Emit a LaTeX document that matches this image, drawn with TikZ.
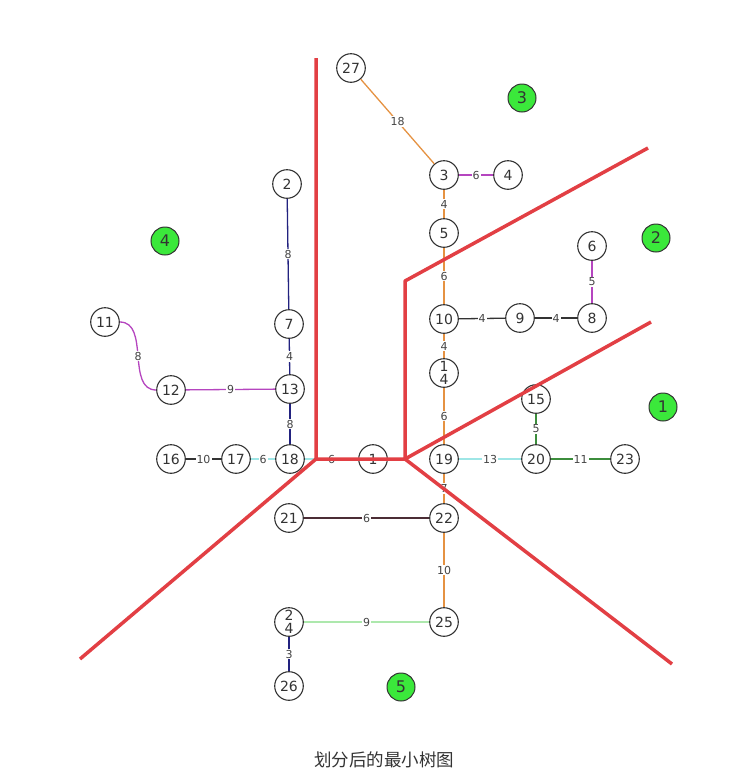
\documentclass[tikz,border=0pt]{standalone}
\usepackage{fontspec}
\setmainfont{DejaVu Sans}
\newfontfamily\cjk{Noto Sans CJK SC}
\usetikzlibrary{positioning}
\definecolor{cdark}{HTML}{333333}
\definecolor{cgrey}{HTML}{444444}
\definecolor{cred}{HTML}{E23F44}
\definecolor{cpart}{HTML}{3BE83B}
\definecolor{corange}{HTML}{E59242}
\definecolor{cmagenta}{HTML}{B545BF}
\definecolor{cnavy}{HTML}{22227F}
\definecolor{cblack}{HTML}{333333}
\definecolor{ccyan}{HTML}{9EE6E6}
\definecolor{cgreen}{HTML}{3C8D3C}
\definecolor{clight}{HTML}{ADE8AD}
\definecolor{cbrown}{HTML}{4B2D35}
\tikzset{
  every picture/.style={line width=0.8pt},
  vtx/.style={circle, draw=cdark, line width=1.1pt, fill=white, minimum size=28.6pt, inner sep=0pt, align=center, text=cdark, font=\fontsize{14}{13}\selectfont},
  part/.style={circle, draw=cdark, line width=1pt, fill=cpart, minimum size=28pt, inner sep=0pt, text=cdark, font=\fontsize{16}{16}\selectfont},
  wt/.style={fill=white, inner sep=1pt, text=cgrey, font=\fontsize{11}{11}\selectfont},
  link/.style={draw=#1, line width=1.3pt},
  cut/.style={draw=cred, line width=3.5pt, line join=round},
}

\begin{document}
\begin{tikzpicture}[x=1pt, y=-1pt]
  \useasboundingbox (0,0) rectangle (738,782);
  % vertices
  \node[vtx] (n27) at (351,68) {27};
  \node[vtx] (n3) at (444,175) {3};
  \node[vtx] (n4) at (508,175) {4};
  \node[vtx] (n5) at (444,233) {5};
  \node[vtx] (n10) at (444,319) {10};
  \node[vtx] (n9) at (520,318) {9};
  \node[vtx] (n8) at (592,318) {8};
  \node[vtx] (n6) at (592,246) {6};
  \node[vtx] (n14) at (444,373) {1\\4};
  \node[vtx] (n19) at (444,459) {19};
  \node[vtx] (n15) at (536,399) {15};
  \node[vtx] (n20) at (536,459) {20};
  \node[vtx] (n23) at (625,459) {23};
  \node[vtx] (n1) at (373,459) {1};
  \node[vtx] (n2) at (287,184) {2};
  \node[vtx] (n7) at (289,324) {7};
  \node[vtx] (n13) at (290,389) {13};
  \node[vtx] (n12) at (171,390) {12};
  \node[vtx] (n11) at (105,322) {11};
  \node[vtx] (n18) at (290,459) {18};
  \node[vtx] (n17) at (236,459) {17};
  \node[vtx] (n16) at (171,459) {16};
  \node[vtx] (n21) at (289,518) {21};
  \node[vtx] (n22) at (444,518) {22};
  \node[vtx] (n25) at (444,622) {25};
  \node[vtx] (n24) at (289,622) {2\\4};
  \node[vtx] (n26) at (289,686) {26};
  % tree edges
  \draw[link=corange] (n27) -- node[wt]{18} (n3);
  \draw[link=cmagenta] (n3) -- node[wt]{6} (n4);
  \draw[link=corange] (n3) -- node[wt]{4} (n5);
  \draw[link=corange] (n5) -- node[wt]{6} (n10);
  \draw[link=cblack] (n10) -- node[wt]{4} (n9);
  \draw[link=cblack] (n9) -- node[wt]{4} (n8);
  \draw[link=cmagenta] (n8) -- node[wt]{5} (n6);
  \draw[link=corange] (n10) -- node[wt]{4} (n14);
  \draw[link=corange] (n14) -- node[wt]{6} (n19);
  \draw[link=ccyan] (n19) -- node[wt]{13} (n20);
  \draw[link=cgreen] (n20) -- node[wt]{5} (n15);
  \draw[link=cgreen] (n20) -- node[wt]{11} (n23);
  \draw[link=corange] (n19) -- node[wt]{7} (n22);
  \draw[link=cbrown] (n22) -- node[wt]{6} (n21);
  \draw[link=corange] (n22) -- node[wt]{10} (n25);
  \draw[link=clight] (n25) -- node[wt]{9} (n24);
  \draw[link=cnavy] (n24) -- node[wt]{3} (n26);
  \draw[link=cnavy] (n2) -- node[wt]{8} (n7);
  \draw[link=cnavy] (n7) -- node[wt]{4} (n13);
  \draw[link=cnavy] (n13) -- node[wt]{8} (n18);
  \draw[link=cmagenta] (n13) -- node[wt]{9} (n12);
  \draw[link=cmagenta] (n11) to[out=0, in=180] node[wt]{8} (n12);
  \draw[link=ccyan] (n18) -- node[wt]{6} (n17);
  \draw[link=cblack] (n17) -- node[wt]{10} (n16);
  \draw[link=ccyan] (n18) -- node[wt]{6} (n1);
  % partition lines
  \coordinate (jl) at (316,459);
  \coordinate (jr) at (405,459);
  \coordinate (top) at (316,58);
  \coordinate (bend) at (405,281);
  \coordinate (ne) at (648,148);
  \coordinate (ee) at (651,322);
  \coordinate (se) at (672,664);
  \coordinate (sw) at (80,659);
  \draw[cut] (top) -- (jl) -- (jr) -- (bend) -- (ne);
  \draw[cut] (jr) -- (ee);
  \draw[cut] (jr) -- (se);
  \draw[cut] (jl) -- (sw);
  % region labels
  \node[part] (p1) at (663,407) {1};
  \node[part] (p2) at (656,238) {2};
  \node[part] (p3) at (522,98) {3};
  \node[part] (p4) at (165,241) {4};
  \node[part] (p5) at (401,687) {5};
  \node[font=\cjk\fontsize{17.5}{17.5}\selectfont, text=cdark] (title) at (384,760) {划分后的最小树图};
\end{tikzpicture}
\end{document}
